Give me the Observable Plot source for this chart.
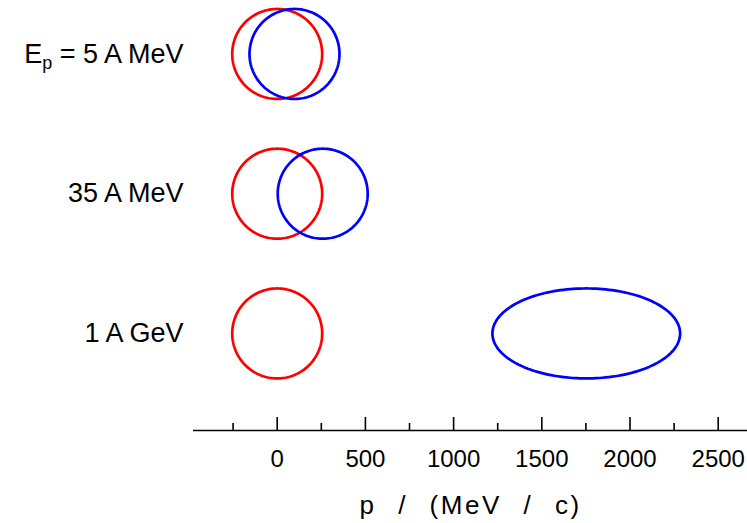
<!DOCTYPE html>
<html>
<head>
<meta charset="utf-8">
<script src="https://cdn.jsdelivr.net/npm/d3@7"></script>
<script src="https://cdn.jsdelivr.net/npm/@observablehq/plot@0.6"></script>
<style>
  html, body { margin: 0; padding: 0; background: #fff; }
  #chart { width: 747px; height: 523px; }
</style>
</head>
<body>
<div id="chart"></div>
<script>
// ---- data ----
const energyLabels = ["E_p = 5 A MeV", "35 A MeV", "1 A GeV"];
const targetCentres = [0, 0, 0];            // MeV/c, red (target) Fermi sphere
const targetRadius = [255, 255, 255];        // MeV/c
const projectileCentres = [98, 258, 1752];   // MeV/c, blue (projectile) Fermi sphere
const projectileRadiusX = [255, 255, 532];   // MeV/c (Lorentz-stretched at 1 A GeV)
const projectileRadiusY = [255, 255, 255];   // MeV/c
const majorTicks = [0, 500, 1000, 1500, 2000, 2500];
const minorTicks = [-250, 250, 750, 1250, 1750, 2250];
const axisTitle = "p / (MeV / c)";

// ---- layout ----
const W = 747, H = 523;
const rowStep = 792;                  // vertical spacing between rows, in momentum units
const xDomain = [-474.5, 2666];
const yDomain = [2134, -303];

// build outline tables (one ellipse per sphere)
const shapes = [];
energyLabels.forEach((lab, i) => {
  shapes.push({id: "t" + i, row: i, cx: targetCentres[i], rx: targetRadius[i], ry: targetRadius[i], color: "#ff0000"});
  shapes.push({id: "p" + i, row: i, cx: projectileCentres[i], rx: projectileRadiusX[i], ry: projectileRadiusY[i], color: "#0000ff"});
});
const outline = [];
for (const s of shapes) {
  const n = 180;
  for (let k = 0; k <= n; k++) {
    const a = 2 * Math.PI * k / n;
    outline.push({id: s.id, color: s.color, px: s.cx + s.rx * Math.cos(a), py: s.row * rowStep + s.ry * Math.sin(a)});
  }
}
const rows = energyLabels.map((label, i) => ({label, y: i * rowStep}));

const sans = "'Liberation Sans', Arial, sans-serif";

const svg = Plot.plot({
  width: W,
  height: H,
  marginLeft: 193,
  marginRight: 0,
  marginTop: 0,
  marginBottom: 93,
  style: {background: "#fff", overflow: "visible", fontFamily: sans},
  x: {domain: xDomain, axis: null},
  y: {domain: yDomain, axis: null},
  color: {type: "identity"},
  marks: [
    Plot.line(outline, {x: "px", y: "py", z: "id", stroke: "color", strokeWidth: 2.7, curve: "linear-closed"}),
    Plot.text(rows, {frameAnchor: "left", y: "y", text: "label", textAnchor: "end", lineAnchor: "middle", dx: -10, fontSize: 27, fontFamily: sans, fill: "#000"}),
    Plot.ruleY([yDomain[0]], {stroke: "#000", strokeWidth: 1.7}),
    Plot.ruleX(majorTicks, {x: d => d, insetTop: 430 - 13, stroke: "#000", strokeWidth: 1.6}),
    Plot.ruleX(minorTicks, {x: d => d, insetTop: 430 - 7, stroke: "#000", strokeWidth: 1.6}),
    Plot.text(majorTicks, {x: d => d, frameAnchor: "bottom", lineAnchor: "top", dy: 19, text: d => String(d), fontSize: 24, fontFamily: sans, fill: "#000"}),
    Plot.text([axisTitle], {frameAnchor: "bottom", lineAnchor: "top", dy: 65, text: d => d, fontSize: 26, fontFamily: sans, fill: "#000"})
  ]
});

// subscript handling for "E_p"
svg.querySelectorAll("text").forEach(t => {
  const s = t.textContent;
  const m = s.match(/^(.*?)_(\w)(.*)$/);
  if (!m) return;
  const ns = "http://www.w3.org/2000/svg";
  t.textContent = "";
  const a = document.createElementNS(ns, "tspan"); a.textContent = m[1];
  const b = document.createElementNS(ns, "tspan"); b.textContent = m[2];
  b.setAttribute("font-size", "18"); b.setAttribute("dy", "6");
  const c = document.createElementNS(ns, "tspan"); c.textContent = m[3];
  c.setAttribute("dy", "-6");
  t.append(a, b, c);
});

// word/letter spacing on the axis title
svg.querySelectorAll("text").forEach(t => {
  if (t.textContent === axisTitle) {
    t.style.wordSpacing = "12px";
    t.style.letterSpacing = "2.5px";
  }
});

document.getElementById("chart").appendChild(svg);
</script>
</body>
</html>
